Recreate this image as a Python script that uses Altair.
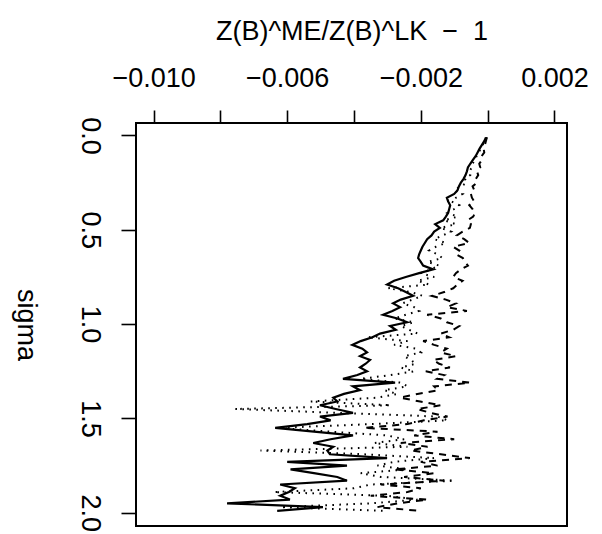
import altair as alt
import pandas as pd

# sigma grid (y positions of the sampled points)
sigma = [round(0.01 + 0.02 * i, 2) for i in range(100)]

# series values, in units of 1e-3
solid_milli = [
    -0.05, -0.10, -0.17, -0.24, -0.30, -0.36, -0.44, -0.52, -0.59, -0.62,
    -0.66, -0.72, -0.80, -0.86, -0.90, -1.00, -1.22, -1.18, -1.12, -1.15,
    -1.18, -1.25, -1.33, -1.57, -1.43, -1.60, -1.68, -1.81, -1.88, -1.95,
    -2.00, -2.05, -2.08, -2.00, -1.93, -1.63, -2.05, -2.45, -2.80, -3.01,
    -2.68, -2.45, -2.23, -2.60, -2.83, -2.62, -2.85, -3.13, -2.70, -2.41,
    -2.92, -2.75, -3.22, -3.45, -3.80, -4.05, -3.75, -3.61, -3.82, -3.52,
    -3.65, -3.82, -3.61, -3.90, -4.33, -2.77, -4.03, -3.82, -4.30, -4.62,
    -4.50, -5.02, -4.55, -4.03, -5.02, -4.70, -5.40, -6.36, -5.20, -4.03,
    -4.70, -5.22, -4.62, -4.80, -4.72, -3.01, -6.00, -4.21, -5.90, -5.20,
    -4.50, -4.21, -6.21, -5.77, -5.95, -6.21, -5.92, -7.80, -4.93, -6.30,
]
dotted_milli = [
    -0.03, -0.08, -0.15, -0.22, -0.25, -0.33, -0.38, -0.45, -0.47, -0.55,
    -0.52, -0.68, -0.62, -0.80, -1.00, -0.75, -0.95, -1.08, -0.85, -1.00,
    -1.20, -0.90, -1.30, -0.95, -1.40, -1.10, -1.35, -1.60, -1.25, -1.55,
    -1.75, -1.50, -1.35, -1.80, -1.45, -1.70, -2.00, -1.60, -2.10, -1.75,
    -2.98, -2.30, -1.95, -2.25, -2.55, -2.20, -2.05, -2.45, -2.80, -2.20,
    -2.60, -2.35, -2.10, -3.60, -2.40, -2.80, -2.15, -2.00, -2.50, -2.30,
    -2.15, -2.60, -2.20, -2.90, -3.80, -2.60, -2.40, -3.10, -2.70, -3.30,
    -5.30, -2.90, -7.56, -4.50, -1.50, -1.20, -3.50, -6.30, -4.70, -3.00,
    -2.50, -3.40, -2.40, -6.80, -3.70, -1.60, -2.80, -3.30, -2.40, -3.80,
    -3.20, -1.00, -3.50, -4.00, -6.40, -3.00, -2.10, -3.50, -6.20, -3.10,
]
dashed_milli = [
    -0.02, -0.05, -0.08, -0.12, -0.10, -0.18, -0.17, -0.25, -0.22, -0.32,
    -0.28, -0.35, -0.32, -0.45, -0.40, -0.50, -0.47, -0.40, -0.55, -0.45,
    -0.38, -0.43, -0.60, -0.50, -0.53, -0.75, -0.92, -0.70, -0.55, -1.03,
    -0.85, -0.95, -0.74, -0.68, -0.59, -0.80, -0.95, -1.03, -0.75, -0.90,
    -1.03, -1.30, -1.67, -1.25, -0.95, -1.22, -0.62, -1.81, -1.40, -1.22,
    -0.85, -1.03, -1.40, -1.15, -1.93, -1.60, -1.22, -1.40, -0.95, -1.63,
    -1.45, -1.13, -1.85, -1.30, -1.51, -0.53, -1.60, -1.48, -2.10, -2.62,
    -2.02, -1.40, -2.11, -1.72, -1.20, -1.90, -2.40, -3.70, -1.50, -2.20,
    -1.00, -2.60, -1.80, -2.30, -1.40, -0.53, -2.00, -1.50, -2.80, -1.60,
    -2.50, -1.30, -3.20, -2.00, -2.40, -3.50, -1.80, -2.70, -3.30, -2.00,
]

x_ticks = [-0.010, -0.008, -0.006, -0.004, -0.002, 0.0, 0.002]
y_ticks = [0.0, 0.5, 1.0, 1.5, 2.0]

rows = []
for name, vals in [("solid", solid_milli), ("dotted", dotted_milli), ("dashed", dashed_milli)]:
    for s, v in zip(sigma, vals):
        rows.append({"series": name, "sigma": s, "value": v * 1e-3})
df = pd.DataFrame(rows)

FONT = "Liberation Sans"
FS = 27

x_enc = alt.X(
    "value:Q",
    scale=alt.Scale(domain=[-0.010527, 0.002377], nice=False, zero=False),
    axis=alt.Axis(
        orient="top",
        values=x_ticks,
        labelExpr="(round(datum.value*1000)+10) % 4 == 0 ? replace(format(datum.value, '.3f'), '-', '\u2212') : ''",
        title="Z(B)^ME/Z(B)^LK\u00a0\u00a0\u2212\u00a0\u00a01",
        domain=False,
        grid=False,
        tickColor="black",
        tickWidth=1.6,
        tickSize=13,
        labelPadding=18,
        labelFont=FONT,
        labelFontSize=FS,
        labelColor="black",
        labelOverlap=False,
        titleFont=FONT,
        titleFontSize=FS,
        titleFontWeight="normal",
        titleColor="black",
        titleY=-84,
        titleBaseline="alphabetic",
    ),
)
y_enc = alt.Y(
    "sigma:Q",
    scale=alt.Scale(domain=[-0.066, 2.07], reverse=True, nice=False, zero=False),
    axis=alt.Axis(
        values=y_ticks,
        format=".1f",
        labelAngle=90,
        labelAlign="center",
        labelBaseline="middle",
        domain=False,
        grid=False,
        tickColor="black",
        tickWidth=1.6,
        tickSize=15,
        labelPadding=32,
        labelFont=FONT,
        labelFontSize=FS,
        labelColor="black",
        labelOverlap=False,
        title="sigma",
        titleFont=FONT,
        titleFontSize=FS,
        titleFontWeight="normal",
        titleColor="black",
        titleAngle=90,
        titleAlign="center",
        titleBaseline="middle",
        titleX=-111,
    ),
)

base = alt.Chart(df)
solid = base.transform_filter(alt.datum.series == "solid").mark_line(
    color="black", strokeWidth=2.2
).encode(x=x_enc, y=y_enc, order="sigma:Q")
dotted = base.transform_filter(alt.datum.series == "dotted").mark_line(
    color="black", strokeWidth=2, strokeDash=[1.6, 5.4]
).encode(x=x_enc, y=y_enc, order="sigma:Q")
dashed = base.transform_filter(alt.datum.series == "dashed").mark_line(
    color="black", strokeWidth=2, strokeDash=[7, 6]
).encode(x=x_enc, y=y_enc, order="sigma:Q")

chart = (
    alt.layer(solid, dotted, dashed)
    .properties(
        width=431,
        height=403,
        autosize=alt.AutoSizeParams(type="none"),
        padding={"left": 136, "top": 123, "right": 35, "bottom": 8},
        background="white",
    )
    .configure_view(stroke="black", strokeWidth=2)
)

chart.save("out.html", embed_options={"renderer": "svg", "actions": False})
